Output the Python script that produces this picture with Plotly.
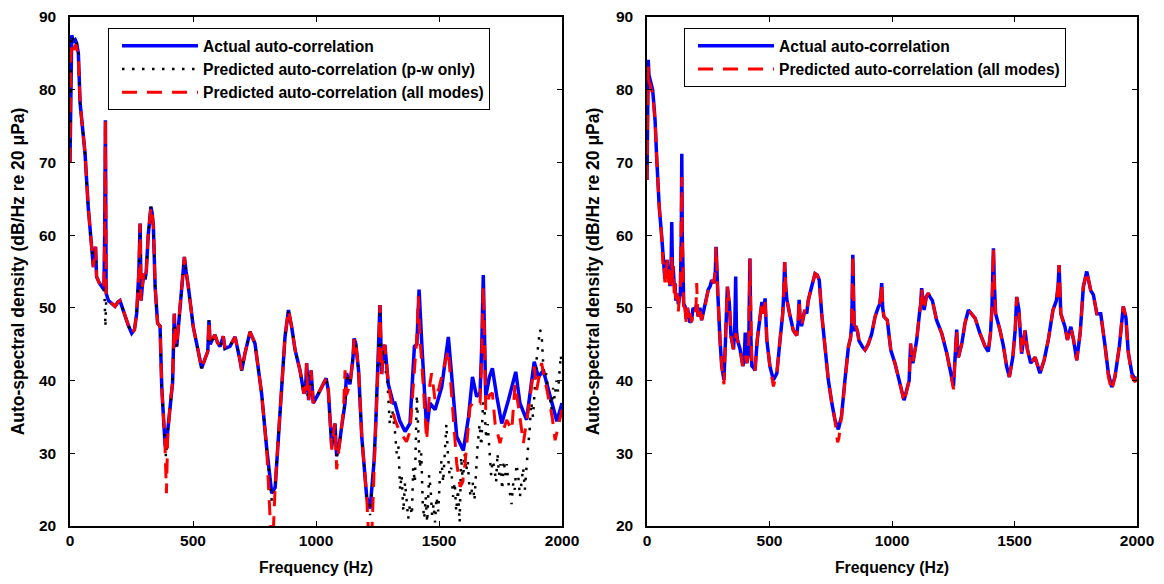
import plotly.graph_objects as go

# ---------------- data (Hz, dB/Hz re 20 uPa) ----------------
LEFT_ACTUAL = [(0, 70), (3, 84), (7, 87.5), (15, 86.5), (22, 86.8), (27, 86.4), (34, 85), (41, 78.2), (50, 75),
    (61, 71.3), (74, 63.9), (88, 57.5), (95, 55.6), (104, 58.4), (108, 54.3), (118, 53.5), (129, 52.9), (138, 52.5),
    (141, 60), (144, 75.8), (147, 52), (156, 51), (170, 50.6), (183, 50.2), (195, 50.8), (203, 51), (213, 50),
    (224, 48.8), (238, 47.5), (251, 46.5), (262, 47), (271, 49.2), (280, 55), (285, 61.6), (289, 51), (294, 53),
    (300, 54.7), (305, 53.9), (310, 55), (318, 60), (329, 63.9), (334, 63), (339, 61.2), (346, 52.9), (356, 47.9),
    (366, 47.5), (373, 39.1), (386, 31.4), (390, 30.6), (397, 33), (407, 36.9), (417, 39.7), (424, 49.2), (428, 45),
    (434, 44.7), (447, 50.2), (457, 54), (465, 57), (472, 55), (481, 52.9), (501, 47.4), (522, 43.7), (535, 41.7),
    (549, 43), (560, 44), (565, 48.3), (570, 45), (575, 45.4), (589, 46.3), (600, 45.2), (610, 44.7), (623, 46.1),
    (630, 44.4), (650, 44.7), (671, 46), (690, 43), (698, 41.4), (711, 43.7), (732, 46.7), (752, 45.1), (779, 38.2),
    (799, 30.9), (820, 24.5), (834, 25.3), (847, 32.3), (860, 38.7), (874, 46), (888, 49.7), (901, 47.4), (915, 44.2),
    (935, 41.4), (951, 38.2), (958, 39), (962, 42.4), (966, 38), (970, 37.3), (980, 41.4), (989, 36.9), (1010, 38.2),
    (1030, 39.5), (1041, 40.3), (1050, 38.7), (1064, 30.9), (1072, 33), (1077, 34.1), (1084, 29.6), (1094, 31),
    (1104, 33.6), (1112, 36), (1118, 36.9), (1124, 41), (1138, 39.5), (1150, 43), (1155, 45.8), (1162, 45),
    (1173, 41.4), (1186, 32.3), (1206, 24), (1220, 22.4), (1236, 28.9), (1243, 34.1), (1253, 42.4), (1260, 50.4),
    (1267, 40.9), (1274, 44.5), (1280, 44.9), (1294, 39.5), (1314, 36.9), (1321, 36.9), (1340, 34.5), (1362, 33),
    (1382, 34.1), (1400, 44.7), (1410, 45), (1419, 52.5), (1430, 45.1), (1450, 33.2), (1463, 36.9), (1484, 36),
    (1511, 39.1), (1538, 46), (1552, 40.5), (1572, 32.3), (1599, 30.4), (1620, 35), (1636, 40.5), (1653, 37.8),
    (1667, 38.3), (1674, 45), (1680, 54.5), (1686, 45), (1690, 37.8), (1705, 40.5), (1717, 41.7), (1735, 37.8),
    (1755, 34.1), (1782, 37.3), (1812, 41.2), (1829, 36.9), (1856, 34.6), (1887, 42.6), (1904, 40.5), (1924, 41.4),
    (1958, 36.9), (1979, 34.4), (2000, 36.9)]

LEFT_PW_ONLY = [(0, 70), (3, 84), (7, 87.5), (15, 86.5), (22, 86.8), (27, 86.4), (34, 85), (41, 78.2), (50, 75),
    (61, 71.3), (74, 63.9), (88, 57.5), (95, 55.6), (104, 58.4), (108, 54.3), (118, 53.5), (129, 52.9), (138, 52.5),
    (141, 51), (144, 47.4), (147, 51), (156, 51), (170, 50.6), (183, 50.2), (195, 50.8), (203, 51), (213, 50),
    (224, 48.8), (238, 47.5), (251, 46.5), (262, 47), (271, 49.2), (280, 55), (285, 61.6), (289, 51), (294, 53),
    (300, 54.7), (305, 53.9), (310, 55), (318, 60), (329, 63.9), (334, 63), (339, 61.2), (346, 52.9), (356, 47.9),
    (366, 47.5), (373, 39.1), (386, 31.4), (390, 29.5), (397, 33), (407, 36.9), (417, 39.7), (424, 49.2), (428, 45),
    (434, 44.7), (447, 50.2), (457, 54), (465, 57), (472, 55), (481, 52.9), (501, 47.4), (522, 43.7), (535, 41.7),
    (549, 43), (560, 44), (565, 48.3), (570, 45), (575, 45.4), (589, 46.3), (600, 45.2), (610, 44.7), (623, 46.1),
    (630, 44.4), (650, 44.7), (671, 46), (690, 43), (698, 41.4), (711, 43.7), (732, 46.7), (752, 45.1), (779, 38.2),
    (799, 30.9), (820, 23.5), (834, 25.3), (847, 32.3), (860, 38.7), (874, 46), (888, 49.7), (901, 47.4), (915, 44.2),
    (935, 41.4), (951, 38.2), (958, 39), (962, 42.4), (966, 38), (970, 37.3), (980, 41.4), (989, 36.9), (1010, 38.2),
    (1030, 39.5), (1041, 40.3), (1050, 38.7), (1064, 30.9), (1072, 33), (1077, 34.1), (1084, 29.6), (1094, 31),
    (1104, 33.6), (1112, 36), (1118, 36.9), (1124, 41), (1138, 39.5), (1150, 43), (1155, 45.8), (1162, 45),
    (1173, 41.4), (1186, 32.3), (1206, 24), (1220, 21.5), (1236, 28.9), (1243, 34.1), (1253, 42.4), (1260, 50.4),
    (1267, 40.9), (1274, 44.5), (1280, 42), (1290, 40), (1300, 34), (1310, 36), (1321, 33), (1328, 30), (1335, 31),
    (1342, 25), (1348, 27), (1355, 22), (1362, 26), (1368, 24), (1375, 21), (1382, 23), (1390, 21.5), (1395, 28),
    (1402, 26), (1410, 38), (1416, 33), (1422, 28), (1428, 30), (1434, 23), (1440, 21), (1446, 24), (1452, 20.5),
    (1460, 27), (1466, 25), (1472, 21.5), (1478, 23), (1484, 20.5), (1490, 24), (1497, 22), (1504, 27), (1510, 29),
    (1517, 26), (1524, 31), (1530, 34), (1536, 30), (1543, 27), (1550, 28), (1557, 24), (1564, 26), (1570, 22),
    (1577, 25), (1584, 20.5), (1590, 29.5), (1597, 26), (1604, 30), (1610, 27.5), (1617, 29), (1624, 25), (1630, 24),
    (1637, 26), (1644, 23.5), (1650, 27.5), (1657, 31), (1665, 34), (1672, 31), (1679, 37), (1685, 36), (1692, 32),
    (1698, 34), (1705, 30.5), (1712, 27), (1718, 29), (1725, 28), (1732, 26), (1738, 30), (1744, 27), (1750, 28.5),
    (1757, 25), (1763, 29), (1770, 27), (1775, 28.5), (1782, 26), (1789, 24.5), (1795, 23), (1802, 26), (1808, 25),
    (1815, 28.5), (1822, 27), (1829, 24), (1835, 26), (1842, 28), (1849, 25), (1856, 27.5), (1860, 30), (1868, 33),
    (1875, 37), (1882, 35), (1890, 40), (1897, 43), (1904, 45), (1910, 47), (1917, 46.5), (1924, 42), (1930, 40.5),
    (1937, 41), (1944, 38), (1950, 38), (1957, 36), (1964, 39), (1970, 37.5), (1977, 40), (1984, 38.5), (1990, 42),
    (1995, 43.5), (2000, 42)]

LEFT_ALL_MODES = [(0, 70), (3, 84), (7, 86.5), (15, 85.5), (22, 86.2), (27, 85.8), (34, 84.5), (41, 78.2), (50, 75),
    (61, 71.3), (74, 63.9), (88, 57.5), (95, 55.6), (104, 58.4), (108, 54.3), (118, 53.5), (129, 52.9), (138, 52.5),
    (141, 60), (144, 75.8), (147, 52), (156, 51), (170, 50.6), (183, 50.2), (195, 50.8), (203, 51), (213, 50),
    (224, 48.8), (238, 47.5), (251, 46.5), (262, 47), (271, 49.2), (280, 55), (285, 61.6), (289, 51), (294, 53),
    (300, 54.7), (305, 53.9), (310, 55), (318, 60), (329, 63.9), (334, 63), (339, 61.2), (346, 52.9), (356, 47.9),
    (366, 47.5), (373, 39.1), (386, 31.4), (392, 24.5), (397, 32), (407, 36.9), (417, 39.7), (424, 49.2), (428, 45),
    (434, 44.7), (447, 50.2), (457, 54), (465, 57), (472, 55), (481, 52.9), (501, 47.4), (522, 43.7), (535, 41.7),
    (549, 43), (560, 44), (565, 48.3), (570, 45), (575, 45.4), (589, 46.3), (600, 45.2), (610, 44.7), (623, 46.1),
    (630, 44.4), (650, 44.7), (671, 46), (690, 43), (698, 41.4), (711, 43.7), (732, 46.7), (752, 45.1), (779, 38.2),
    (799, 30.9), (812, 22), (818, 18), (826, 19), (834, 25.3), (847, 32.3), (860, 38.7), (874, 46), (888, 49.7),
    (901, 47.4), (915, 44.2), (935, 41.4), (951, 38.2), (958, 39), (962, 42.4), (966, 38), (970, 37.3), (980, 41.4),
    (989, 36.9), (1010, 38.2), (1030, 39.5), (1041, 40.3), (1050, 38.7), (1064, 30.5), (1072, 33), (1077, 34.1),
    (1084, 27.8), (1094, 31), (1104, 33.6), (1112, 36), (1118, 41.4), (1124, 38), (1138, 39.5), (1150, 43),
    (1155, 45.8), (1162, 45), (1173, 41.4), (1186, 32.3), (1206, 24), (1215, 18), (1226, 18), (1236, 28.9),
    (1243, 34.1), (1253, 42.4), (1260, 50.4), (1267, 40.9), (1274, 44.5), (1280, 44.9), (1294, 39.5), (1314, 35.5),
    (1321, 34.6), (1340, 33), (1368, 31.6), (1382, 33), (1403, 42.4), (1410, 46), (1416, 51.6), (1422, 46),
    (1430, 42.4), (1450, 31.8), (1463, 39.5), (1470, 41), (1484, 37.3), (1500, 39), (1524, 42.4), (1538, 44.2),
    (1558, 35), (1572, 28.6), (1586, 25.4), (1596, 26), (1606, 28.6), (1626, 36.4), (1646, 37.3), (1667, 36.9),
    (1674, 44), (1680, 52.9), (1686, 44), (1690, 36), (1705, 38), (1717, 38.3), (1728, 34.1), (1748, 31.4),
    (1760, 33), (1775, 34.6), (1796, 33.2), (1809, 39.5), (1825, 36), (1843, 31.4), (1863, 36), (1887, 41.9),
    (1897, 38.7), (1917, 42.4), (1944, 37.8), (1960, 35), (1972, 31.8), (1992, 35), (2000, 36)]

RIGHT_ACTUAL = [(0, 67.6), (3, 80), (5, 84.1), (8, 82), (12, 81.3), (18, 80.5), (23, 80), (28, 78), (33, 75.8),
    (40, 70.3), (50, 63.9), (60, 59.8), (65, 57), (69, 56.6), (73, 54), (76, 54.8), (79, 56), (82, 56.6), (86, 54.5),
    (89, 55.7), (94, 53), (98, 55), (101, 61.8), (104, 55), (107, 55.7), (111, 53), (114, 53.4), (118, 51), (124, 52),
    (128, 50.5), (132, 51.6), (136, 52), (140, 60), (142, 71.2), (144, 60), (146, 52.9), (150, 50.5), (155, 50.2),
    (160, 48.5), (165, 50), (169, 49.3), (175, 48), (182, 48.3), (188, 50), (196, 49.7), (203, 50.5), (209, 48.8),
    (216, 50), (223, 48.3), (230, 49.5), (237, 50.2), (244, 51.5), (250, 52.5), (258, 53), (264, 53.8), (273, 53.4),
    (279, 55), (282, 58.4), (285, 55), (289, 52), (298, 45.6), (305, 42), (314, 40.1), (318, 43), (321, 46.1),
    (328, 52.9), (336, 50.6), (343, 46.1), (353, 44.3), (358, 47), (362, 54.3), (365, 47), (369, 45.6), (380, 44.3),
    (391, 42), (397, 43), (401, 46.6), (404, 43), (408, 42.4), (415, 44), (420, 56.8), (424, 46), (428, 42),
    (434, 41.8), (441, 41.4), (450, 45.6), (461, 48.3), (469, 50.8), (475, 49.2), (482, 51.3), (489, 45.6),
    (502, 41.9), (516, 40.1), (530, 41), (543, 45.6), (554, 49.2), (558, 52), (562, 56.3), (566, 53), (571, 51.1),
    (582, 49.2), (597, 46.9), (611, 46.2), (617, 48), (621, 51.1), (626, 48), (631, 47.5), (644, 49.7), (652, 49.2),
    (658, 51), (672, 52.9), (686, 54.7), (695, 54.5), (703, 53.8), (713, 49.2), (727, 44.6), (740, 40.1), (754, 37),
    (767, 34.6), (781, 33.3), (794, 35.1), (808, 40.1), (822, 44.6), (831, 45.9), (836, 48), (840, 57.3), (843, 50),
    (846, 46.8), (852, 47.5), (859, 46.8), (865, 45.5), (872, 45), (880, 44.6), (890, 44.2), (903, 45), (917, 46.4),
    (931, 48.8), (944, 50.1), (950, 50.5), (955, 52), (958, 53.4), (962, 50), (967, 48.8), (981, 48.3), (995, 44.2),
    (1012, 42.4), (1030, 40.1), (1040, 38.5), (1049, 37.3), (1060, 38.7), (1070, 40), (1076, 45.1), (1080, 43),
    (1085, 42.4), (1101, 45.6), (1112, 49.2), (1117, 50.5), (1121, 52.7), (1126, 50.5), (1131, 49.7), (1140, 51.5),
    (1148, 52), (1155, 51.5), (1165, 51), (1182, 48.3), (1203, 46.5), (1224, 43.7), (1240, 41), (1251, 39.2),
    (1257, 42.8), (1264, 47), (1268, 44), (1271, 43.2), (1285, 45.1), (1298, 47.9), (1312, 49.7), (1325, 49.2),
    (1339, 48.6), (1359, 46.5), (1380, 44.7), (1393, 44), (1402, 46.5), (1408, 50), (1414, 58.2), (1418, 53),
    (1423, 49.2), (1441, 46.9), (1455, 44.7), (1468, 41.9), (1479, 40.5), (1493, 43.2), (1503, 47), (1509, 51.5),
    (1518, 49.7), (1529, 43.7), (1543, 46.9), (1552, 44.4), (1566, 42.4), (1584, 43.2), (1604, 41), (1621, 42.8),
    (1638, 45.6), (1657, 49.7), (1671, 51), (1678, 53), (1682, 55.9), (1686, 52), (1689, 49.2), (1706, 47.4),
    (1716, 45.6), (1730, 47.4), (1741, 45.6), (1754, 42.8), (1768, 46.5), (1781, 52.9), (1795, 55), (1811, 52.4),
    (1822, 51.8), (1836, 49.2), (1852, 49.2), (1870, 44.7), (1883, 41), (1897, 39.1), (1910, 40.5), (1928, 44.7),
    (1944, 50.2), (1955, 48.6), (1964, 44), (1979, 41), (1992, 40.1), (2000, 40.5)]

RIGHT_ALL_MODES = [(0, 67.6), (3, 79), (5, 83.2), (8, 81), (12, 80.8), (18, 80), (23, 79.5), (28, 77.5), (33, 75.8),
    (40, 70.3), (50, 63.9), (60, 59.8), (65, 56), (69, 56.6), (73, 53.5), (76, 55.5), (79, 54), (82, 56.6), (86, 53.5),
    (89, 55.7), (94, 52.5), (98, 55), (101, 57), (104, 54), (107, 55.7), (111, 52), (114, 53.4), (118, 50.5),
    (124, 52), (128, 49.5), (132, 51.6), (136, 52), (140, 60), (142, 68), (144, 60), (146, 52.9), (150, 49.5),
    (155, 50.2), (160, 48), (165, 50), (169, 48.5), (175, 49.5), (182, 48), (188, 49.5), (196, 49.2), (200, 50),
    (203, 53.4), (206, 50), (209, 48.8), (216, 50), (223, 48.3), (230, 49.5), (237, 50.2), (244, 51.5), (250, 52.5),
    (258, 53), (264, 53.8), (273, 53.4), (279, 55), (282, 58.4), (285, 55), (289, 52), (298, 45.6), (305, 42),
    (314, 39.5), (318, 43), (321, 46.1), (328, 52.9), (336, 50.6), (343, 46.1), (353, 44.3), (362, 46.5), (369, 45.6),
    (380, 44.3), (391, 42), (401, 43.5), (408, 42.4), (415, 44), (420, 56.8), (424, 46), (428, 42), (434, 41.8),
    (441, 41.4), (450, 45.6), (461, 48.3), (469, 50.8), (475, 49.2), (482, 51.3), (489, 45.6), (502, 41.9),
    (516, 39.2), (530, 41), (543, 45.6), (554, 49.2), (558, 52), (562, 56.3), (566, 53), (571, 51.1), (582, 49.2),
    (597, 46.9), (611, 46.2), (617, 48), (621, 51.1), (626, 48), (631, 47.5), (644, 49.7), (652, 49.2), (658, 51),
    (672, 52.9), (686, 54.7), (695, 54.5), (703, 53.8), (713, 49.2), (727, 44.6), (740, 40.1), (754, 37), (767, 34.6),
    (778, 31.5), (783, 32), (794, 35.1), (808, 40.1), (822, 44.6), (831, 45.9), (836, 48), (840, 57.3), (843, 50),
    (846, 46.8), (852, 47.5), (859, 46.8), (865, 45.5), (872, 45), (880, 44.6), (890, 44.2), (903, 45), (917, 46.4),
    (931, 48.8), (944, 50.1), (950, 50.5), (955, 52), (958, 53.4), (962, 50), (967, 48.8), (981, 48.3), (995, 44.2),
    (1012, 42.4), (1030, 40.1), (1040, 38.5), (1049, 37), (1060, 38.7), (1070, 40), (1076, 45.1), (1080, 43),
    (1085, 42.4), (1101, 45.6), (1112, 49.2), (1117, 50.5), (1121, 52.7), (1126, 50.5), (1131, 49.7), (1140, 51.5),
    (1148, 52), (1155, 51.5), (1165, 51), (1182, 48.3), (1203, 46.5), (1224, 43.7), (1240, 41), (1251, 38.8),
    (1257, 42.8), (1264, 47), (1268, 44), (1271, 43.2), (1285, 45.1), (1298, 47.9), (1312, 49.7), (1325, 49.2),
    (1339, 48.6), (1359, 46.5), (1380, 44.7), (1393, 44), (1402, 46.5), (1408, 50), (1414, 58.2), (1418, 53),
    (1423, 49.2), (1441, 46.9), (1455, 44.7), (1468, 41.9), (1479, 40.5), (1493, 43.2), (1503, 47), (1509, 51.5),
    (1518, 49.7), (1529, 43.7), (1543, 46.9), (1552, 44.4), (1566, 42.4), (1584, 43.2), (1604, 41), (1621, 42.8),
    (1638, 45.6), (1657, 49.7), (1671, 51), (1678, 53), (1682, 55.9), (1686, 52), (1689, 49.2), (1706, 47.4),
    (1716, 45.6), (1730, 47.4), (1741, 45.6), (1754, 42.8), (1768, 46.5), (1781, 52.9), (1795, 55), (1811, 52.4),
    (1822, 51.8), (1836, 49.2), (1852, 49.2), (1870, 44.7), (1883, 40.5), (1897, 38.6), (1910, 40.5), (1928, 44.7),
    (1944, 50.2), (1955, 48.6), (1964, 44), (1979, 40.5), (1992, 39.8), (2000, 40.5)]

X_TICKS = [0, 500, 1000, 1500, 2000]
Y_TICKS = [20, 30, 40, 50, 60, 70, 80, 90]
NAME_ACTUAL = "Actual auto-correlation"
NAME_PW = "Predicted auto-correlation (p-w only)"
NAME_ALL = "Predicted auto-correlation (all modes)"
X_TITLE = "Frequency (Hz)"
Y_TITLE = "Auto-spectral density (dB/Hz re 20 \u03bcPa)"

# ---------------- figure ----------------
# page body has an 8px margin, so figure pixel = window pixel - 8
OFF = 8
W, H = 1164 - 2 * OFF, 584 - 2 * OFF
FAM = "Liberation Sans, Arial, sans-serif"
TICK_FONT = dict(family=FAM, size=15.5, color="black", weight="bold")
XT_FONT = dict(family=FAM, size=15.8, color="black", weight="bold")
YT_FONT = dict(family=FAM, size=17.5, color="black", weight="bold")
LEG_FONT = dict(family=FAM, size=15.6, color="black", weight="bold")


def xy(pairs):
    return [p[0] for p in pairs], [p[1] for p in pairs]


RED_DASH = "15px,10px"
fig = go.Figure()

x, y = xy(LEFT_ACTUAL)
fig.add_trace(go.Scatter(x=x, y=y, mode="lines", name=NAME_ACTUAL, line=dict(color="#0000ff", width=3.5),
                         xaxis="x", yaxis="y", legend="legend"))
x, y = xy(LEFT_PW_ONLY)
fig.add_trace(go.Scatter(x=x, y=y, mode="lines", name=NAME_PW,
                         line=dict(color="black", width=2.5, dash="2.5px,7.5px"),
                         xaxis="x", yaxis="y", legend="legend"))
x, y = xy(LEFT_ALL_MODES)
fig.add_trace(go.Scatter(x=x, y=y, mode="lines", name=NAME_ALL,
                         line=dict(color="#ff0000", width=3, dash=RED_DASH),
                         xaxis="x", yaxis="y", legend="legend"))

x, y = xy(RIGHT_ACTUAL)
fig.add_trace(go.Scatter(x=x, y=y, mode="lines", name=NAME_ACTUAL, line=dict(color="#0000ff", width=3.5),
                         xaxis="x2", yaxis="y2", legend="legend2"))
x, y = xy(RIGHT_ALL_MODES)
fig.add_trace(go.Scatter(x=x, y=y, mode="lines", name=NAME_ALL,
                         line=dict(color="#ff0000", width=3, dash=RED_DASH),
                         xaxis="x2", yaxis="y2", legend="legend2"))


def px(v):
    return (v - OFF) / W


def py(v):
    return 1 - (v - OFF) / H


ydom = [py(526), py(17)]


def xaxis(dom, anchor):
    return dict(domain=dom, anchor=anchor, range=[0, 2000], tickvals=X_TICKS, ticks="inside", ticklen=5,
                tickwidth=1, tickcolor="black", showline=True, linecolor="black", linewidth=1.5,
                mirror="allticks", showgrid=False, zeroline=False, tickfont=TICK_FONT,
                title=dict(text=X_TITLE, font=XT_FONT, standoff=21))


def yaxis(anchor):
    return dict(domain=ydom, anchor=anchor, range=[20, 90], tickvals=Y_TICKS, ticks="inside", ticklen=5,
                tickwidth=1, tickcolor="black", showline=True, linecolor="black", linewidth=1.5,
                mirror="allticks", showgrid=False, zeroline=False, tickfont=TICK_FONT, ticklabelstandoff=9,
                title=dict(text=Y_TITLE, font=YT_FONT, standoff=12))


legend_common = dict(bgcolor="white", bordercolor="black", borderwidth=1, font=LEG_FONT,
                     xanchor="left", yanchor="top", itemwidth=76, tracegroupgap=1, indentation=8,
                     entrywidthmode="pixels")

fig.update_layout(
    width=W, height=H, autosize=False,
    paper_bgcolor="white", plot_bgcolor="white",
    margin=dict(l=0, r=0, t=0, b=0, autoexpand=False),
    xaxis=xaxis([px(70), px(562)], "y"),
    yaxis=yaxis("x"),
    xaxis2=xaxis([px(647), px(1137)], "y2"),
    yaxis2=yaxis("x2"),
    legend=dict(x=px(108), y=py(28), entrywidth=300, **legend_common),
    legend2=dict(x=px(684), y=py(28), entrywidth=288, **legend_common),
    showlegend=True,
)

fig.write_html("out.html")
